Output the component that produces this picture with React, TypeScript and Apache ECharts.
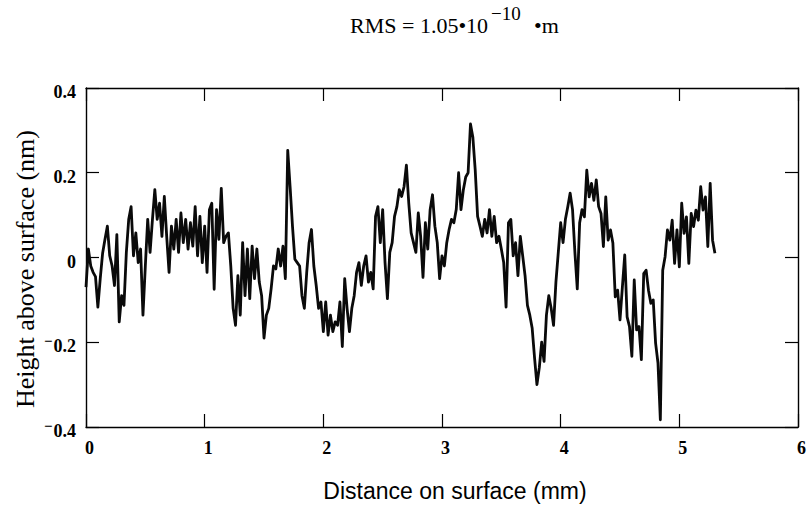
import React, { useEffect, useRef } from "react";
import * as echarts from "echarts";

// Distance on surface (mm)
const distance: number[] = [
  0.0, 0.02, 0.04, 0.06, 0.08, 0.1, 0.12, 0.14, 0.16, 0.18,
  0.2, 0.22, 0.24, 0.26, 0.28, 0.3, 0.32, 0.34, 0.36, 0.38,
  0.4, 0.42, 0.44, 0.46, 0.48, 0.5, 0.52, 0.54, 0.56, 0.58,
  0.6, 0.62, 0.64, 0.66, 0.68, 0.7, 0.72, 0.74, 0.76, 0.78,
  0.8, 0.82, 0.84, 0.86, 0.88, 0.9, 0.92, 0.94, 0.96, 0.98,
  1.0, 1.02, 1.04, 1.06, 1.08, 1.1, 1.12, 1.14, 1.16, 1.18,
  1.2, 1.22, 1.24, 1.26, 1.28, 1.3, 1.32, 1.34, 1.36, 1.38,
  1.4, 1.42, 1.44, 1.46, 1.48, 1.5, 1.52, 1.54, 1.56, 1.58,
  1.6, 1.62, 1.64, 1.66, 1.68, 1.7, 1.72, 1.74, 1.76, 1.78,
  1.8, 1.82, 1.84, 1.86, 1.88, 1.9, 1.92, 1.94, 1.96, 1.98,
  2.0, 2.02, 2.04, 2.06, 2.08, 2.1, 2.12, 2.14, 2.16, 2.18,
  2.2, 2.22, 2.24, 2.26, 2.28, 2.3, 2.32, 2.34, 2.36, 2.38,
  2.4, 2.42, 2.44, 2.46, 2.48, 2.5, 2.52, 2.54, 2.56, 2.58,
  2.6, 2.62, 2.64, 2.66, 2.68, 2.7, 2.72, 2.74, 2.76, 2.78,
  2.8, 2.82, 2.84, 2.86, 2.88, 2.9, 2.92, 2.94, 2.96, 2.98,
  3.0, 3.02, 3.04, 3.06, 3.08, 3.1, 3.12, 3.14, 3.16, 3.18,
  3.2, 3.22, 3.24, 3.26, 3.28, 3.3, 3.32, 3.34, 3.36, 3.38,
  3.4, 3.42, 3.44, 3.46, 3.48, 3.5, 3.52, 3.54, 3.56, 3.58,
  3.6, 3.62, 3.64, 3.66, 3.68, 3.7, 3.72, 3.74, 3.76, 3.78,
  3.8, 3.82, 3.84, 3.86, 3.88, 3.9, 3.92, 3.94, 3.96, 3.98,
  4.0, 4.02, 4.04, 4.06, 4.08, 4.1, 4.12, 4.14, 4.16, 4.18,
  4.2, 4.22, 4.24, 4.26, 4.28, 4.3, 4.32, 4.34, 4.36, 4.38,
  4.4, 4.42, 4.44, 4.46, 4.48, 4.5, 4.52, 4.54, 4.56, 4.58,
  4.6, 4.62, 4.64, 4.66, 4.68, 4.7, 4.72, 4.74, 4.76, 4.78,
  4.8, 4.82, 4.84, 4.86, 4.88, 4.9, 4.92, 4.94, 4.96, 4.98,
  5.0, 5.02, 5.04, 5.06, 5.08, 5.1, 5.12, 5.14, 5.16, 5.18,
  5.2, 5.22, 5.24, 5.26, 5.28, 5.3,
];

// Height above surface (nm)
const height: number[] = [
  -0.07, 0.02, -0.02, -0.035, -0.045, -0.117, -0.05, 0.01, 0.043, 0.074,
  0.004, -0.02, -0.066, 0.054, -0.152, -0.09, -0.113, 0.012, 0.09, 0.12,
  0.004, 0.058, -0.012, 0.02, -0.136, -0.02, 0.09, 0.012, 0.09, 0.16,
  0.09, 0.128, 0.05, 0.144, 0.05, -0.035, 0.074, 0.02, 0.09, 0.012,
  0.105, 0.035, 0.09, 0.02, 0.082, 0.027, 0.12, 0.004, 0.097, -0.012,
  0.074, -0.035, 0.113, 0.128, -0.075, 0.113, 0.043, 0.163, 0.035, 0.05,
  0.058, -0.02, -0.12, -0.16, -0.043, -0.136, 0.035, -0.09, 0.02, -0.097,
  0.027, -0.05, 0.02, -0.058, -0.09, -0.19, -0.136, -0.12, -0.074, -0.02,
  -0.027, 0.02, -0.02, 0.027, -0.05, 0.253, 0.167, 0.074, -0.004, -0.012,
  -0.02, -0.09, -0.12, -0.035, 0.035, 0.066, -0.02, -0.066, -0.12, -0.105,
  -0.175, -0.105, -0.183, -0.136, -0.175, -0.152, -0.16, -0.105, -0.21, -0.05,
  -0.12, -0.175, -0.12, -0.09, -0.035, -0.012, -0.066, -0.02, 0.004, -0.058,
  -0.035, -0.074, 0.097, 0.12, 0.035, 0.113, -0.012, -0.097, 0.012, 0.035,
  0.097, 0.12, 0.16, 0.144, 0.167, 0.218, 0.128, 0.058, 0.035, 0.012,
  0.105, 0.05, -0.047, 0.082, 0.02, 0.113, 0.148, 0.074, 0.035, -0.05,
  0.004, -0.02, 0.035, 0.066, 0.09, 0.082, 0.113, 0.2, 0.113, 0.16,
  0.19, 0.2, 0.315, 0.284, 0.206, 0.097, 0.074, 0.05, 0.09, 0.058,
  0.113, 0.05, 0.097, 0.035, 0.05, 0.02, -0.012, -0.117, 0.082, 0.09,
  0.004, 0.035, -0.043, 0.05, 0.004, -0.043, -0.113, -0.136, -0.167, -0.237,
  -0.3, -0.26, -0.2, -0.245, -0.136, -0.09, -0.12, -0.16, -0.058, 0.012,
  0.082, 0.035, 0.09, 0.12, 0.152, 0.113, 0.012, -0.074, 0.082, 0.113,
  0.096, 0.206, 0.143, 0.175, 0.135, 0.183, 0.12, 0.104, 0.026, 0.143,
  0.041, 0.065, 0.034, -0.093, -0.077, -0.147, -0.07, 0.006, -0.14, -0.163,
  -0.233, -0.053, -0.171, -0.163, -0.241, -0.038, -0.03, -0.077, -0.108, -0.1,
  -0.202, -0.249, -0.383, -0.03, 0.002, 0.065, 0.041, 0.088, -0.014, 0.065,
  -0.022, 0.128, 0.057, 0.096, -0.014, 0.104, 0.073, 0.112, 0.088, 0.167,
  0.112, 0.143, 0.026, 0.175, 0.041, 0.01,
];

const xTickLabels: string[] = ["0", "1", "2", "3", "4", "5", "6"];
const yTickLabels: string[] = ["-0.4", "-0.2", "0", "0.2", "0.4"];

const titleMain = "RMS = 1.05\u202210";
const titleExp = "\u221210";
const titleUnit = "\u2022m";
const xTitle = "Distance on surface (mm)";
const yTitle = "Height above surface (nm)";

const X_MIN = 0, X_MAX = 6, X_STEP = 1;
const Y_MIN = -0.4, Y_MAX = 0.4, Y_STEP = 0.2;

export default function App() {
  const ref = useRef<HTMLDivElement>(null);

  useEffect(() => {
    if (!ref.current) return;
    const chart = echarts.init(ref.current, undefined, { renderer: "svg" });

    const lineCol = "#000";
    const axisLine = { show: true, onZero: false, lineStyle: { color: lineCol, width: 1.4 } };
    const axisTick = { show: true, inside: true, length: 13, lineStyle: { color: lineCol, width: 1.2 } };

    const yLabelFor = (v: number) => {
      const idx = Math.round((v - Y_MIN) / Y_STEP);
      const s = yTickLabels[idx] ?? "";
      if (s.startsWith("-")) return `{m|\u2212}{n|${s.slice(1)}}`;
      return `{n|${s}}`;
    };

    const option: any = {
      animation: false,
      backgroundColor: "#ffffff",
      grid: { left: 86, right: 11, top: 88, bottom: 84, containLabel: false, outerBoundsMode: "none" },
      xAxis: [
        {
          type: "value", min: X_MIN, max: X_MAX, interval: X_STEP, position: "bottom",
          axisLine, axisTick,
          splitLine: { show: false },
          axisLabel: {
            color: "#000", fontFamily: "Liberation Serif", fontWeight: "bold", fontSize: 18, margin: 12,
            padding: [0, 0, 0, 7],
            formatter: (v: number) => xTickLabels[Math.round((v - X_MIN) / X_STEP)] ?? "",
          },
        },
        {
          type: "value", min: X_MIN, max: X_MAX, interval: X_STEP, position: "top",
          axisLine, axisTick, splitLine: { show: false }, axisLabel: { show: false },
        },
      ],
      yAxis: [
        {
          type: "value", min: Y_MIN, max: Y_MAX, interval: Y_STEP, position: "left",
          axisLine, axisTick, splitLine: { show: false },
          axisLabel: {
            color: "#000", margin: 10, padding: [8, 0, 0, 0],
            formatter: yLabelFor,
            rich: {
              n: { fontFamily: "Liberation Serif", fontWeight: "bold", fontSize: 18, color: "#000" },
              m: { fontFamily: "Liberation Serif", fontWeight: "bold", fontSize: 15, color: "#000", padding: [0, 1, 10, 0] },
            },
          },
        },
        {
          type: "value", min: Y_MIN, max: Y_MAX, interval: Y_STEP, position: "right",
          axisLine, axisTick, splitLine: { show: false }, axisLabel: { show: false },
        },
      ],
      series: [
        {
          type: "line",
          xAxisIndex: 0,
          yAxisIndex: 0,
          data: distance.map((d, i) => [d, height[i]]),
          symbol: "none",
          showSymbol: false,
          lineStyle: { color: "#0a0a0a", width: 2.8, join: "round" },
          z: 1,
        },
      ],
      graphic: [
        {
          type: "text", x: 350, y: 25,
          style: { text: titleMain, fill: "#000", font: "22px 'Liberation Serif'", align: "left", verticalAlign: "middle" },
        },
        {
          type: "text", x: 491, y: 13,
          style: { text: titleExp, fill: "#000", font: "19px 'Liberation Serif'", align: "left", verticalAlign: "middle" },
        },
        {
          type: "text", x: 534, y: 25,
          style: { text: titleUnit, fill: "#000", font: "22px 'Liberation Serif'", align: "left", verticalAlign: "middle" },
        },
        {
          type: "text", x: 455, y: 491,
          style: { text: xTitle, fill: "#000", font: "23px 'Liberation Sans'", align: "center", verticalAlign: "middle" },
        },
        {
          type: "text", x: 25, y: 269, rotation: Math.PI / 2,
          style: { text: yTitle, fill: "#000", font: "26px 'Liberation Serif'", align: "center", verticalAlign: "middle" },
        },
      ],
    };

    chart.setOption(option);
    return () => chart.dispose();
  }, []);

  return (
    <div
      ref={ref}
      style={{ position: "fixed", left: 0, top: 0, width: 809, height: 511, background: "#fff" }}
    />
  );
}
